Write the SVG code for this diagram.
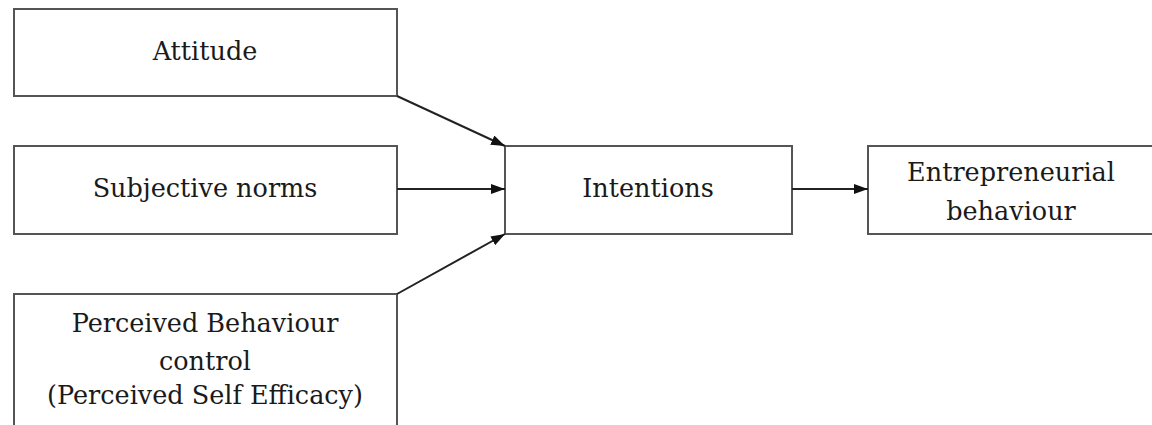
<svg xmlns="http://www.w3.org/2000/svg" width="1152" height="425" viewBox="0 0 1152 425">
<style>
.box{fill:#fff;stroke:#555;stroke-width:2}
.t{font-family:'DejaVu Serif',serif;font-size:25.5px;fill:#1a1a1a;text-anchor:middle}
.c{stroke:#222;stroke-width:2;fill:none;marker-end:url(#ah)}
</style>
<defs>
<marker id="ah" viewBox="0 0 14 10" refX="14" refY="5" markerWidth="14" markerHeight="10" markerUnits="userSpaceOnUse" orient="auto">
<path d="M0,0 L14,5 L0,10 z" fill="#111"/>
</marker>
</defs>
<rect width="1152" height="425" fill="#fff"/>
<g id="attitude"><rect class="box" x="14" y="9" width="383" height="87"/><text class="t" x="205" y="60">Attitude</text></g>
<g id="subjective-norms"><rect class="box" x="14" y="146" width="383" height="88"/><text class="t" x="205" y="197">Subjective norms</text></g>
<g id="perceived"><rect class="box" x="14" y="294" width="383" height="140"/><text class="t" x="205" y="332">Perceived Behaviour</text><text class="t" x="205" y="370">control</text><text class="t" x="205" y="404">(Perceived Self Efficacy)</text></g>
<g id="intentions"><rect class="box" x="505" y="146" width="287" height="88"/><text class="t" x="648" y="197">Intentions</text></g>
<g id="entrepreneurial"><rect class="box" x="868" y="146" width="300" height="88"/><text class="t" x="1011" y="181">Entrepreneurial</text><text class="t" x="1011" y="220">behaviour</text></g>
<g id="connectors">
<line class="c" x1="397" y1="96" x2="505" y2="146"/>
<line class="c" x1="397" y1="189" x2="505" y2="189"/>
<line class="c" x1="397" y1="294" x2="505" y2="234"/>
<line class="c" x1="792" y1="189" x2="868" y2="189"/>
</g>
</svg>
